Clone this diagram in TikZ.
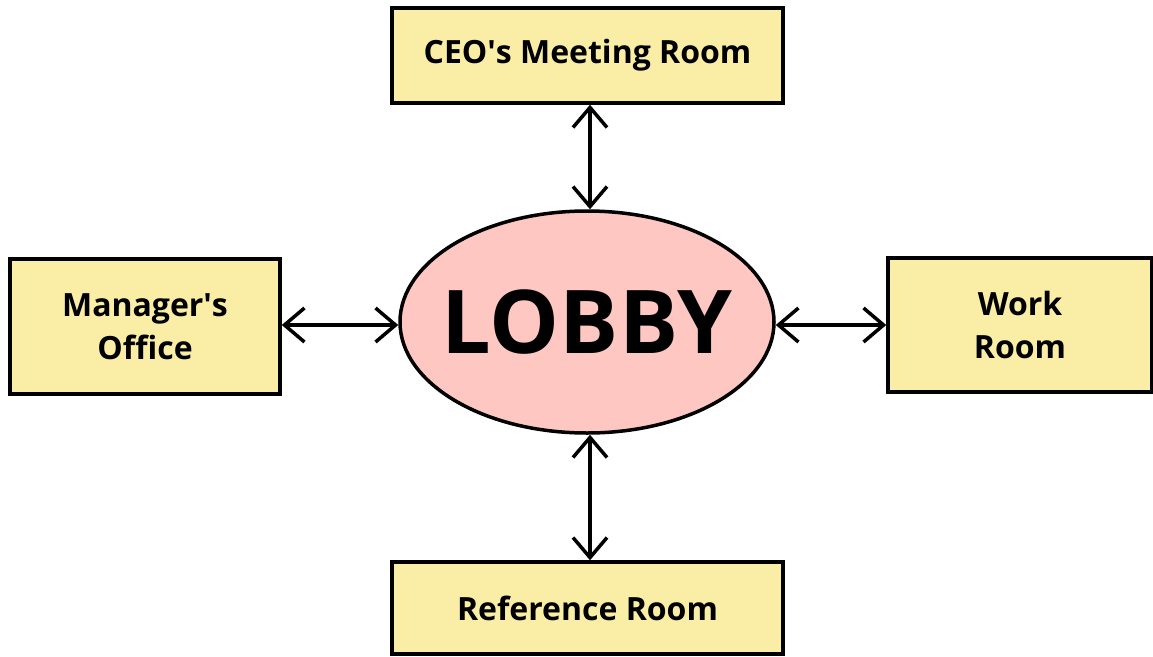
\documentclass[tikz,border=0pt]{standalone}
\usepackage{fontspec}
\setmainfont{Open Sans}
\usetikzlibrary{arrows.meta,shapes.geometric,positioning}
\definecolor{roomyellow}{RGB}{250,238,166}
\definecolor{lobbypink}{RGB}{255,199,194}
\tikzset{room/.style={
            draw,
            fill=roomyellow,
            line width=3.5pt,
            inner sep=0pt,
            align=center,
            font=\fontsize{32}{43}\selectfont\bfseries
        },
        lobby/.style={
            draw,
            ellipse,
            fill=lobbypink,
            line width=3.5pt,
            inner xsep=-40pt,
            inner ysep=0pt,
            minimum width=374pt,
            minimum height=222pt,
            font=\fontsize{88}{100}\selectfont\bfseries
        },
        link/.style={
            {Straight Barb[length=20pt,width=34pt]}-{Straight Barb[length=20pt,width=34pt]},
            line width=3.5pt
        }
    }

\begin{document}
\begin{tikzpicture}[x=1pt,y=-1pt]
        \useasboundingbox (0,0) rectangle (1153,656);
        \node[lobby] at (587,322) (lobby) {LOBBY};
        \node[room,minimum width=391pt,minimum height=95pt] at (587.5,55.5) (ceo) {CEO\textquotesingle s Meeting Room};
        \node[room,minimum width=270pt,minimum height=135pt] at (145,326.5) (manager) {Manager\textquotesingle s\\Office};
        \node[room,minimum width=264pt,minimum height=134pt] at (1020,325) (work) {Work\\Room};
        \node[room,minimum width=391pt,minimum height=92pt] at (587.5,608) (reference) {Reference Room};
        \draw[link] (ceo.south -| 590,0) -- (lobby.north -| 590,0);
        \draw[link] (lobby.south -| 590,0) -- (reference.north -| 590,0);
        \draw[link] (manager.east |- 0,325) -- (lobby.west |- 0,325);
        \draw[link] (lobby.east |- 0,325) -- (work.west |- 0,325);
    \end{tikzpicture}
\end{document}
